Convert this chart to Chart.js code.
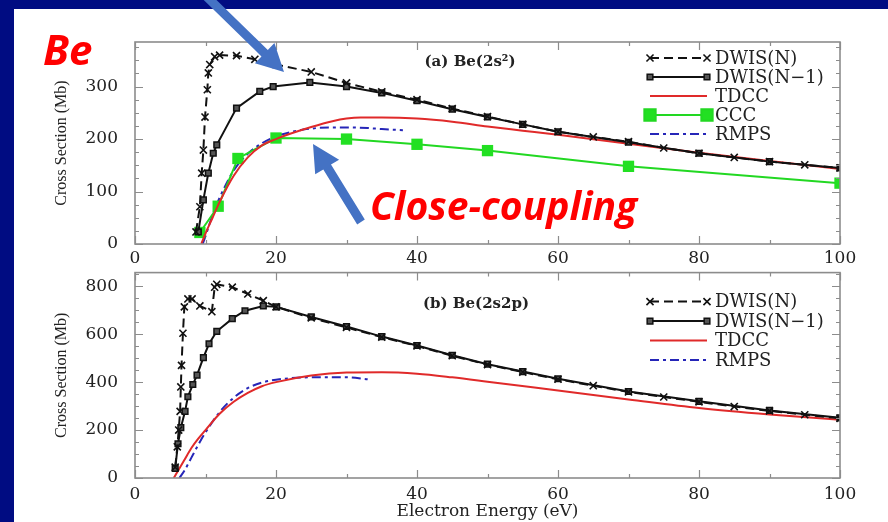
<!DOCTYPE html>
<html>
<head>
<meta charset="utf-8">
<script src="https://cdn.jsdelivr.net/npm/chart.js@4.4.1/dist/chart.umd.min.js"></script>
<style>
  html, body { margin: 0; padding: 0; }
  body { width: 888px; height: 522px; background: #000c82; position: relative; overflow: hidden; }
  #sheet { position: absolute; left: 14px; top: 9px; width: 874px; height: 513px; background: #fff; }
  #c1 { position: absolute; left: 0; top: 0; }
  #c2 { position: absolute; left: 0; top: 257px; }
  .note { position: absolute; color: #ff0000; font-family: "Open Sans", sans-serif; font-weight: 700;
          font-style: italic; white-space: nowrap; line-height: 1; }
  #arrows { position: absolute; left: 0; top: 0; }
</style>
</head>
<body>
<div id="sheet">
  <canvas id="c1" width="874" height="257"></canvas>
  <canvas id="c2" width="874" height="256"></canvas>
</div>
<div class="note" style="left:43px;top:28px;font-size:42px;">Be</div>
<div class="note" style="left:370px;top:185px;font-size:39px;">Close-coupling</div>
<svg id="arrows" width="888" height="522"></svg>

<script>
// ---- (a) Be(2s^2) ----
const aDwisNE  = [8.65, 9.2, 9.46, 9.7, 9.93, 10.26, 10.4, 10.6, 11.3, 12, 14.4, 17, 20, 25, 30, 35, 40, 45, 50, 55, 60, 65, 70, 75, 80, 85, 90, 95, 100];
const aDwisNS  = [23, 71, 135, 179, 242, 294, 326, 342, 357, 360, 359, 352, 342, 328, 307, 290, 275, 258, 243, 228, 214, 204, 195, 183, 173, 165, 157, 151, 145];
const aDwisN1E = [8.98, 9.7, 10.4, 11.1, 11.6, 14.4, 17.7, 19.6, 24.8, 30, 35, 40, 45, 50, 55, 60, 70, 80, 90, 100];
const aDwisN1S = [23, 84, 135, 173, 189, 259, 291, 300, 308, 300, 288, 273, 257, 242, 228, 214, 194, 173, 157, 145];
const aTdccE   = [9.4, 10, 11, 12, 14, 16, 18, 20, 22, 25, 28, 30, 32, 35, 40, 45, 50, 55, 60, 70, 80, 90, 100];
const aTdccS   = [0, 20, 50, 80, 130, 165, 188, 200, 210, 223, 234, 239, 241, 241, 239, 233, 224, 216, 208, 191, 174, 158, 143];
const aCccE    = [9.2, 11.8, 14.6, 20, 30, 40, 50, 70, 100];
const aCccS    = [22, 72, 163, 202, 200, 190, 178, 148, 116];
const aRmpsE   = [9.6, 10, 11, 12, 14, 16, 18, 20, 22, 25, 28, 30, 33, 35, 38];
const aRmpsS   = [0, 15, 55, 88, 140, 172, 192, 205, 213, 220, 222, 222, 221, 219, 217];

// ---- (b) Be(2s2p) ----
const bDwisNE  = [5.7, 6.0, 6.2, 6.4, 6.5, 6.6, 6.8, 7.0, 7.5, 8.1, 9.2, 10.9, 11.3, 11.6, 13.8, 16, 18.2, 20, 25, 30, 35, 40, 45, 50, 55, 60, 65, 70, 75, 80, 85, 90, 95, 100];
const bDwisNS  = [45, 130, 200, 278, 380, 470, 604, 714, 747, 747, 718, 694, 796, 808, 796, 768, 740, 714, 668, 628, 588, 551, 510, 473, 442, 412, 385, 359, 338, 318, 298, 280, 264, 249];
const bDwisN1E = [5.7, 6.1, 6.5, 7.1, 7.5, 8.2, 8.8, 9.7, 10.5, 11.6, 13.8, 15.6, 18.2, 20.1, 25, 30, 35, 40, 45, 50, 55, 60, 70, 80, 90, 100];
const bDwisN1S = [40, 143, 210, 278, 339, 390, 429, 502, 560, 612, 665, 698, 718, 714, 672, 632, 590, 553, 512, 475, 444, 414, 361, 320, 282, 251];
const bTdccE   = [5.5, 6, 7, 8, 9, 10, 12, 14, 16, 18, 20, 25, 30, 35, 40, 45, 50, 60, 70, 80, 90, 100];
const bTdccS   = [0, 25, 75, 125, 165, 200, 268, 318, 355, 383, 400, 428, 440, 441, 435, 420, 402, 365, 328, 292, 265, 243];
const bRmpsE   = [6.3, 7, 8, 9, 10, 12, 14, 16, 18, 20, 25, 30, 33];
const bRmpsS   = [0, 30, 85, 140, 190, 275, 335, 375, 398, 410, 420, 420, 412];

const xTicks = [0, 20, 40, 60, 80, 100];

const serif = '"DejaVu Serif", serif';
const ink = '#222';

const xy = (xs, ys) => xs.map((v, i) => ({ x: v, y: ys[i] }));

function dwisN(xs, ys) {
  return { label: 'DWIS(N)', data: xy(xs, ys), borderColor: '#111', backgroundColor: '#111',
           borderWidth: 2, borderDash: [9, 5], pointStyle: 'crossRot', pointRadius: 5,
           pointBorderWidth: 1.6, tension: 0 };
}
function dwisN1(xs, ys) {
  return { label: 'DWIS(N\u22121)', data: xy(xs, ys), borderColor: '#111', backgroundColor: '#555',
           borderWidth: 2, pointStyle: 'rect', pointRadius: 4, pointBorderWidth: 1.5, tension: 0 };
}
function tdcc(xs, ys) {
  return { label: 'TDCC', data: xy(xs, ys), borderColor: '#e02a2a', borderWidth: 2,
           pointRadius: 0, cubicInterpolationMode: 'monotone' };
}
function ccc(xs, ys) {
  return { label: 'CCC', data: xy(xs, ys), borderColor: '#22d822', backgroundColor: '#22e022',
           borderWidth: 2, pointStyle: 'rect', pointRadius: 8, pointBorderWidth: 0, tension: 0 };
}
function rmps(xs, ys) {
  return { label: 'RMPS', data: xy(xs, ys), borderColor: '#2626b8', borderWidth: 2,
           borderDash: [9, 4, 3, 4], pointRadius: 0, cubicInterpolationMode: 'monotone' };
}

// small marker painter for the legend samples
function marker(ctx, style, r, x, y) {
  ctx.beginPath();
  const s = r * Math.SQRT1_2;
  if (style === 'rect') {
    ctx.rect(x - s, y - s, 2 * s, 2 * s);
    ctx.fill();
    if (ctx.lineWidth > 0) ctx.stroke();
  } else {
    ctx.moveTo(x - s, y - s); ctx.lineTo(x + s, y + s);
    ctx.moveTo(x + s, y - s); ctx.lineTo(x - s, y + s);
    ctx.stroke();
  }
}

// frame with inward ticks, panel label and in-plot key
const frame = {
  id: 'frame',
  afterDatasetsDraw(chart, args, o) {
    const { ctx, chartArea: a } = chart;
    const x = chart.scales.x, y = chart.scales.y;
    ctx.save();
    ctx.setLineDash([]);
    ctx.strokeStyle = '#8c8c8c';
    ctx.lineWidth = 1.2;
    ctx.beginPath();
    for (let v = x.min; v <= x.max; v += o.xMinor) {
      const px = Math.round(x.getPixelForValue(v)) + 0.5, len = v % o.xMajor ? 4 : 8;
      ctx.moveTo(px, a.bottom); ctx.lineTo(px, a.bottom - len);
      ctx.moveTo(px, a.top); ctx.lineTo(px, a.top + len);
    }
    for (let v = 0; v <= y.max; v += o.yMinor) {
      const py = Math.round(y.getPixelForValue(v)) + 0.5, len = v % o.yMajor ? 4 : 8;
      ctx.moveTo(a.left, py); ctx.lineTo(a.left + len, py);
      ctx.moveTo(a.right, py); ctx.lineTo(a.right - len, py);
    }
    ctx.stroke();
    ctx.lineWidth = 1.6;
    ctx.strokeRect(a.left, a.top, a.right - a.left, a.bottom - a.top);

    ctx.fillStyle = ink;
    ctx.font = 'bold 15px ' + serif;
    ctx.textAlign = 'center';
    ctx.textBaseline = 'middle';
    ctx.fillText(o.title, a.left + o.titleDx, a.top + o.titleDy);

    const lx0 = a.right - 190, lx1 = a.right - 133, tx = a.right - 125;
    chart.data.datasets.forEach((d, i) => {
      const ly = a.top + o.keyTop + i * o.keyGap;
      ctx.strokeStyle = d.borderColor;
      ctx.lineWidth = d.borderWidth;
      ctx.setLineDash(d.borderDash || []);
      ctx.beginPath(); ctx.moveTo(lx0, ly); ctx.lineTo(lx1, ly); ctx.stroke();
      ctx.setLineDash([]);
      if (d.pointRadius > 0) {
        ctx.fillStyle = d.backgroundColor;
        ctx.lineWidth = d.pointBorderWidth;
        marker(ctx, d.pointStyle, d.pointRadius, lx0, ly);
        marker(ctx, d.pointStyle, d.pointRadius, lx1, ly);
      }
      ctx.fillStyle = ink;
      ctx.font = '18px ' + serif;
      ctx.textAlign = 'left';
      ctx.fillText(d.label, tx, ly + 1);
    });
    ctx.restore();
  }
};

function makeChart(id, datasets, yMax, yStep, pad, xHeight, xTitle, deco) {
  return new Chart(document.getElementById(id), {
    type: 'line',
    data: { datasets },
    options: {
      responsive: false,
      animation: false,
      events: [],
      layout: { padding: pad },
      elements: { line: { fill: false } },
      plugins: { legend: { display: false }, tooltip: { enabled: false }, frame: deco },
      scales: {
        x: {
          type: 'linear', min: 0, max: 100,
          grid: { display: false, drawTicks: false }, border: { display: false },
          afterBuildTicks: s => { s.ticks = xTicks.map(v => ({ value: v })); },
          ticks: { padding: xTitle ? 6 : 4, color: ink, font: { family: serif, size: 17 } },
          title: { display: !!xTitle, text: xTitle, color: ink, font: { family: serif, size: 17 },
                   padding: { top: 0, bottom: 0 } },
          afterFit: s => { s.height = xHeight; }
        },
        y: {
          min: 0, max: yMax,
          grid: { display: false, drawTicks: false }, border: { display: false },
          ticks: { stepSize: yStep, includeBounds: false, padding: 17, color: ink,
                   font: { family: serif, size: 17 } },
          title: { display: true, text: 'Cross Section (Mb)', color: ink,
                   font: { family: '"Liberation Serif", serif', size: 16 }, padding: { top: 0, bottom: 0 } },
          afterFit: s => { s.width = 83; s.paddingTop = 0; s.paddingBottom = 0; }
        }
      }
    },
    plugins: [frame]
  });
}

makeChart('c1', [
  dwisN(aDwisNE, aDwisNS),
  dwisN1(aDwisN1E, aDwisN1S),
  tdcc(aTdccE, aTdccS),
  ccc(aCccE, aCccS),
  rmps(aRmpsE, aRmpsS)
], 385, 100, { top: 33, right: 48, left: 38, bottom: 0 }, 22, '',
  { xMinor: 10, xMajor: 20, yMinor: 25, yMajor: 100, title: '(a) Be(2s\u00b2)',
    titleDx: 335, titleDy: 20, keyTop: 16, keyGap: 19 });

makeChart('c2', [
  dwisN(bDwisNE, bDwisNS),
  dwisN1(bDwisN1E, bDwisN1S),
  tdcc(bTdccE, bTdccS),
  rmps(bRmpsE, bRmpsS)
], 857, 200, { top: 2, right: 48, left: 38, bottom: 0 }, 44, 'Electron Energy (eV)',
  { xMinor: 10, xMajor: 20, yMinor: 50, yMajor: 200, title: '(b) Be(2s2p)',
    titleDx: 341, titleDy: 32, keyTop: 29, keyGap: 19.5 });

// blue pointer arrows
function arrow(tail, tip) {
  const dx = tip[0] - tail[0], dy = tip[1] - tail[1], len = Math.hypot(dx, dy);
  const ux = dx / len, uy = dy / len, nx = -uy, ny = ux;
  const hw = 4.5, hh = 14, hl = 27;
  const bx = tip[0] - ux * hl, by = tip[1] - uy * hl;
  const pts = [
    [tail[0] + nx * hw, tail[1] + ny * hw], [bx + nx * hw, by + ny * hw], [bx + nx * hh, by + ny * hh],
    tip, [bx - nx * hh, by - ny * hh], [bx - nx * hw, by - ny * hw], [tail[0] - nx * hw, tail[1] - ny * hw]
  ];
  const p = document.createElementNS('http://www.w3.org/2000/svg', 'polygon');
  p.setAttribute('points', pts.map(q => q[0].toFixed(1) + ',' + q[1].toFixed(1)).join(' '));
  p.setAttribute('fill', '#4472c4');
  document.getElementById('arrows').appendChild(p);
}
arrow([206, -4], [284, 72]);
arrow([361, 222], [313, 144]);
</script>
</body>
</html>
